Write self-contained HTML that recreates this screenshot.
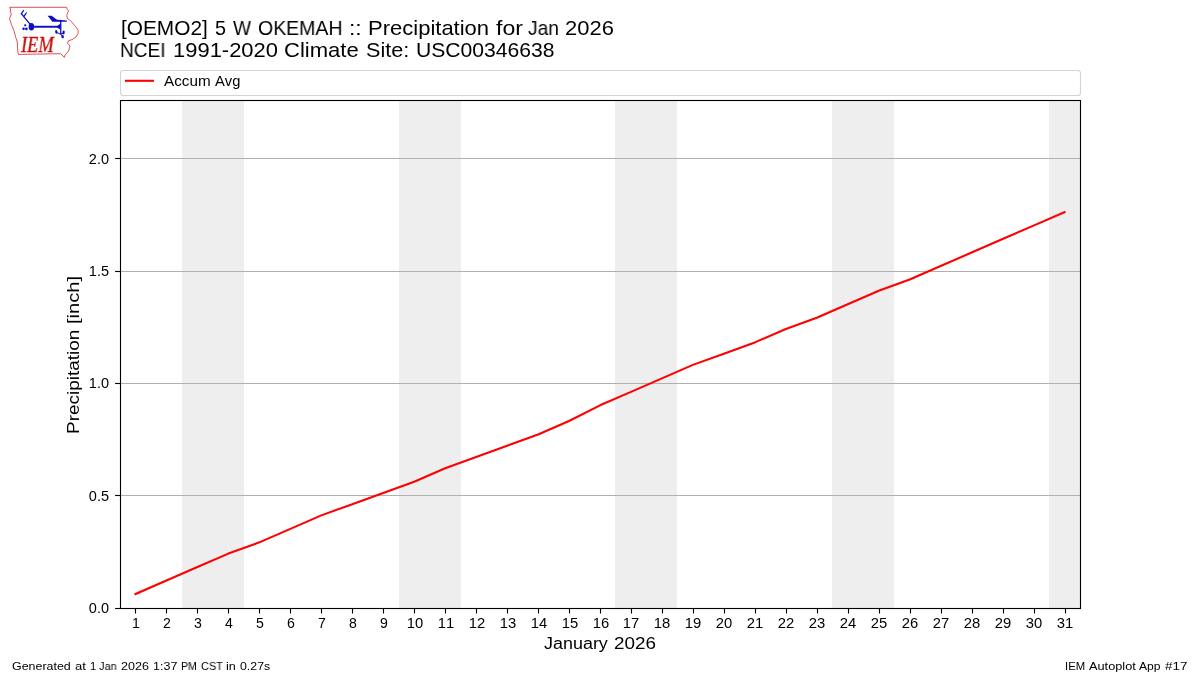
<!DOCTYPE html>
<html lang="en">
<head>
<meta charset="utf-8">
<title>[OEMO2] 5 W OKEMAH :: Precipitation for Jan 2026</title>
<style>
html,body{margin:0;padding:0;background:#ffffff;}
body{width:1200px;height:675px;position:relative;overflow:hidden;font-family:"Liberation Sans",sans-serif;color:#000000;}
.chart{position:absolute;left:0;top:0;display:block;}
.logo{position:absolute;left:0;top:0;display:block;}
.iem{font-family:"Liberation Serif",serif;font-style:italic;color:#cc0a0a;-webkit-text-stroke:0.3px #cc0a0a;}
.t{position:absolute;white-space:nowrap;line-height:1;margin:0;padding:0;will-change:transform;font-kerning:none;}
.w{position:absolute;top:0;display:block;white-space:nowrap;transform-origin:0 0;will-change:transform;}
</style>
</head>
<body>
<svg class="chart" width="1200" height="675" viewBox="0 0 1200 675">
<rect x="182" y="101" width="62" height="507" fill="#eeeeee"/>
<rect x="399" y="101" width="62" height="507" fill="#eeeeee"/>
<rect x="615" y="101" width="62" height="507" fill="#eeeeee"/>
<rect x="832" y="101" width="62" height="507" fill="#eeeeee"/>
<rect x="1049" y="101" width="31" height="507" fill="#eeeeee"/>
<line x1="120.5" y1="608.5" x2="1080.5" y2="608.5" stroke="#b0b0b0" stroke-width="1.11"/>
<line x1="120.5" y1="495.5" x2="1080.5" y2="495.5" stroke="#b0b0b0" stroke-width="1.11"/>
<line x1="120.5" y1="383.5" x2="1080.5" y2="383.5" stroke="#b0b0b0" stroke-width="1.11"/>
<line x1="120.5" y1="271.5" x2="1080.5" y2="271.5" stroke="#b0b0b0" stroke-width="1.11"/>
<line x1="120.5" y1="158.5" x2="1080.5" y2="158.5" stroke="#b0b0b0" stroke-width="1.11"/>
<polyline points="135.48,594.02 166.45,580.54 197.42,567.06 228.39,553.58 259.35,542.35 290.32,528.87 321.29,515.39 352.26,504.16 383.23,492.93 414.19,481.70 445.16,468.22 476.13,456.98 507.10,445.75 538.06,434.52 569.03,421.04 600.00,405.31 630.97,391.84 661.94,378.36 692.90,364.88 723.87,353.65 754.84,342.41 785.81,328.93 816.77,317.70 847.74,304.22 878.71,290.74 909.68,279.51 940.65,266.03 971.61,252.55 1002.58,239.07 1033.55,225.60 1064.52,212.12" fill="none" stroke="#ff0000" stroke-width="2.08" stroke-linejoin="round" stroke-linecap="square"/>
<rect x="120.5" y="100.5" width="960" height="508" fill="none" stroke="#000" stroke-width="1.11"/>
<line x1="115.1" y1="608.5" x2="120.5" y2="608.5" stroke="#000" stroke-width="1.11"/>
<line x1="115.1" y1="495.5" x2="120.5" y2="495.5" stroke="#000" stroke-width="1.11"/>
<line x1="115.1" y1="383.5" x2="120.5" y2="383.5" stroke="#000" stroke-width="1.11"/>
<line x1="115.1" y1="271.5" x2="120.5" y2="271.5" stroke="#000" stroke-width="1.11"/>
<line x1="115.1" y1="158.5" x2="120.5" y2="158.5" stroke="#000" stroke-width="1.11"/>
<line x1="135.5" y1="608.5" x2="135.5" y2="613.5" stroke="#000" stroke-width="1.11"/>
<line x1="166.5" y1="608.5" x2="166.5" y2="613.5" stroke="#000" stroke-width="1.11"/>
<line x1="197.5" y1="608.5" x2="197.5" y2="613.5" stroke="#000" stroke-width="1.11"/>
<line x1="228.5" y1="608.5" x2="228.5" y2="613.5" stroke="#000" stroke-width="1.11"/>
<line x1="259.5" y1="608.5" x2="259.5" y2="613.5" stroke="#000" stroke-width="1.11"/>
<line x1="290.5" y1="608.5" x2="290.5" y2="613.5" stroke="#000" stroke-width="1.11"/>
<line x1="321.5" y1="608.5" x2="321.5" y2="613.5" stroke="#000" stroke-width="1.11"/>
<line x1="352.5" y1="608.5" x2="352.5" y2="613.5" stroke="#000" stroke-width="1.11"/>
<line x1="383.5" y1="608.5" x2="383.5" y2="613.5" stroke="#000" stroke-width="1.11"/>
<line x1="414.5" y1="608.5" x2="414.5" y2="613.5" stroke="#000" stroke-width="1.11"/>
<line x1="445.5" y1="608.5" x2="445.5" y2="613.5" stroke="#000" stroke-width="1.11"/>
<line x1="476.5" y1="608.5" x2="476.5" y2="613.5" stroke="#000" stroke-width="1.11"/>
<line x1="507.5" y1="608.5" x2="507.5" y2="613.5" stroke="#000" stroke-width="1.11"/>
<line x1="538.5" y1="608.5" x2="538.5" y2="613.5" stroke="#000" stroke-width="1.11"/>
<line x1="569.5" y1="608.5" x2="569.5" y2="613.5" stroke="#000" stroke-width="1.11"/>
<line x1="600.5" y1="608.5" x2="600.5" y2="613.5" stroke="#000" stroke-width="1.11"/>
<line x1="631.5" y1="608.5" x2="631.5" y2="613.5" stroke="#000" stroke-width="1.11"/>
<line x1="662.5" y1="608.5" x2="662.5" y2="613.5" stroke="#000" stroke-width="1.11"/>
<line x1="693.5" y1="608.5" x2="693.5" y2="613.5" stroke="#000" stroke-width="1.11"/>
<line x1="724.5" y1="608.5" x2="724.5" y2="613.5" stroke="#000" stroke-width="1.11"/>
<line x1="755.5" y1="608.5" x2="755.5" y2="613.5" stroke="#000" stroke-width="1.11"/>
<line x1="786.5" y1="608.5" x2="786.5" y2="613.5" stroke="#000" stroke-width="1.11"/>
<line x1="817.5" y1="608.5" x2="817.5" y2="613.5" stroke="#000" stroke-width="1.11"/>
<line x1="848.5" y1="608.5" x2="848.5" y2="613.5" stroke="#000" stroke-width="1.11"/>
<line x1="879.5" y1="608.5" x2="879.5" y2="613.5" stroke="#000" stroke-width="1.11"/>
<line x1="910.5" y1="608.5" x2="910.5" y2="613.5" stroke="#000" stroke-width="1.11"/>
<line x1="941.5" y1="608.5" x2="941.5" y2="613.5" stroke="#000" stroke-width="1.11"/>
<line x1="972.5" y1="608.5" x2="972.5" y2="613.5" stroke="#000" stroke-width="1.11"/>
<line x1="1003.5" y1="608.5" x2="1003.5" y2="613.5" stroke="#000" stroke-width="1.11"/>
<line x1="1034.5" y1="608.5" x2="1034.5" y2="613.5" stroke="#000" stroke-width="1.11"/>
<line x1="1065.5" y1="608.5" x2="1065.5" y2="613.5" stroke="#000" stroke-width="1.11"/>
<rect x="120.5" y="70.5" width="960" height="25" rx="2.8" ry="2.8" fill="#fff" stroke="#d4d4d4" stroke-width="1.11"/>
<line x1="125.0" y1="80.8" x2="154.0" y2="80.8" stroke="#ff0000" stroke-width="2.08"/>
</svg>
<svg class="logo" width="100" height="70" viewBox="0 0 100 70">
<path d="M9.7,7.3 L66.7,7.3 L67.0,9.3 L68.7,10.7 L67.6,12.8 L66.8,15.3 L67.3,18.6 L70.6,20.6 L73.3,24.0 L76.2,27.3 L78.2,30.4 L78.0,33.6 L75.8,37.3 L72.0,39.6 L68.4,40.8 L67.6,43.3 L70.0,46.0 L69.0,50.0 L67.0,53.0 L65.0,55.0 L64.3,57.4 L60.7,53.7 L18.4,54.4 L17.7,50.6 L17.3,42.0 L15.7,37.3 L14.0,30.7 L11.4,24.6 L9.6,18.8 L11.3,14.0 L10.3,11.8 L10.7,10.0 Z" fill="none" stroke="#da4444" stroke-width="0.92" stroke-linejoin="round"/>
<g fill="#0b0bc8" stroke="none">
<ellipse cx="31.4" cy="26.65" rx="2.75" ry="3.75"/>
<rect x="31.3" y="25.8" width="29.6" height="1.9"/>
<path d="M57.5,25.8 L60.2,23.8 L60.2,29.6 L57.5,27.7 Z"/>
<rect x="60.1" y="19.8" width="1.3" height="14.2"/>
<path d="M47.6,15.8 L51.6,15.8 L57.0,19.8 L66.8,20.6 L66.8,21.8 L52.4,21.8 Z"/>
<circle cx="25.2" cy="25.3" r="1.1"/>
<circle cx="23.6" cy="28.8" r="1.3"/>
<circle cx="26.4" cy="28.9" r="1.3"/>
<ellipse cx="56.3" cy="31.9" rx="1.15" ry="1.8" transform="rotate(-8 56.3 31.9)"/>
<ellipse cx="63.6" cy="32.4" rx="1.15" ry="2.0" transform="rotate(6 63.6 32.4)"/>
<ellipse cx="62.6" cy="36.7" rx="1.25" ry="1.7" transform="rotate(-10 62.6 36.7)"/>
</g>
<g fill="none" stroke="#0b0bc8" stroke-linecap="round">
<path d="M30.2,24.3 L21.5,13.8" stroke-width="1.3"/>
<path d="M21.4,13.7 L23.6,10.5 M24.1,16.2 L26.3,13.0" stroke-width="1.3"/>
<path d="M57.0,32.6 L60.6,34.2 L63.3,33.2 M60.8,33.8 L62.4,36.2" stroke-width="1.0"/>
</g>
</svg>

<div class="t iem" id="iem" style="left:21px;top:33.7px;font-size:22.7px;transform:scale(0.81,1);transform-origin:left top;">IEM</div>
<div class="t " id="title1" style="left:0;top:19px;font-size:19.8px;"><span class="w" style="left:120.69px;transform:scaleX(1.0524)">[OEMO2]</span> <span class="w" style="left:214.62px;transform:scaleX(0.977)">5</span> <span class="w" style="left:233.01px;transform:scaleX(0.9682)">W</span> <span class="w" style="left:258.02px;transform:scaleX(0.9853)">OKEMAH</span> <span class="w" style="left:349.26px;transform:scaleX(1.1581)">::</span> <span class="w" style="left:368.46px;transform:scaleX(1.1125)">Precipitation</span> <span class="w" style="left:496.19px;transform:scaleX(1.1685)">for</span> <span class="w" style="left:527.68px;transform:scaleX(0.967)">Jan</span> <span class="w" style="left:565.46px;transform:scaleX(1.1103)">2026</span></div>
<div class="t " id="title2" style="left:0;top:41px;font-size:19.8px;"><span class="w" style="left:120.34px;transform:scaleX(0.9651)">NCEI</span> <span class="w" style="left:172.78px;transform:scaleX(1.1098)">1991-2020</span> <span class="w" style="left:284.46px;transform:scaleX(1.1145)">Climate</span> <span class="w" style="left:365.79px;transform:scaleX(1.0926)">Site:</span> <span class="w" style="left:415.61px;transform:scaleX(1.0673)">USC00346638</span></div>
<div class="t " id="legend" style="left:0;top:74px;font-size:14.1px;"><span class="w" style="left:163.98px;transform:scaleX(1.0816)">Accum</span> <span class="w" style="left:215.26px;transform:scaleX(1.0425)">Avg</span></div>
<div class="t " id="ylabel" style="left:65px;top:354.6px;font-size:16.5px;transform:rotate(-90deg);transform-origin:0 0;"><span class="w" style="left:-78.93px;transform:scaleX(1.1489)">Precipitation</span> <span class="w" style="left:30.9px;transform:scaleX(1.2199)">[inch]</span></div>
<div class="t " id="xlabel" style="left:0;top:636px;font-size:16.62px;"><span class="w" style="left:543.81px;transform:scaleX(1.0801)">January</span> <span class="w" style="left:613.71px;transform:scaleX(1.1338)">2026</span></div>
<div class="t " id="footL" style="left:0;top:661px;font-size:11.3px;"><span class="w" style="left:12.0px;transform:scaleX(1.1)">Generated</span> <span class="w" style="left:74.59px;transform:scaleX(1.1547)">at</span> <span class="w" style="left:89.54px;transform:scaleX(0.99)">1</span> <span class="w" style="left:99.03px;transform:scaleX(0.9682)">Jan</span> <span class="w" style="left:120.62px;transform:scaleX(1.1117)">2026</span> <span class="w" style="left:152.51px;transform:scaleX(1.1078)">1:37</span> <span class="w" style="left:180.95px;transform:scaleX(0.9348)">PM</span> <span class="w" style="left:200.62px;transform:scaleX(0.9651)">CST</span> <span class="w" style="left:225.88px;transform:scaleX(1.114)">in</span> <span class="w" style="left:239.59px;transform:scaleX(1.0918)">0.27s</span></div>
<div class="t " id="footR" style="left:0;top:661px;font-size:11.3px;"><span class="w" style="left:1065.35px;transform:scaleX(0.9773)">IEM</span> <span class="w" style="left:1088.75px;transform:scaleX(1.1301)">Autoplot</span> <span class="w" style="left:1139.38px;transform:scaleX(1.0715)">App</span> <span class="w" style="left:1165.35px;transform:scaleX(1.1868)">#17</span></div>
<div class="t " id="yt0_0" style="left:48.8px;top:600.5px;font-size:14.1px;transform:scale(1.03,1);transform-origin:right top;width:60px;text-align:right;">0.0</div>
<div class="t " id="yt0_5" style="left:48.8px;top:489.0px;font-size:14.1px;transform:scale(1.03,1);transform-origin:right top;width:60px;text-align:right;">0.5</div>
<div class="t " id="yt1_0" style="left:48.8px;top:376.0px;font-size:14.1px;transform:scale(1.03,1);transform-origin:right top;width:60px;text-align:right;">1.0</div>
<div class="t " id="yt1_5" style="left:48.8px;top:263.5px;font-size:14.1px;transform:scale(1.03,1);transform-origin:right top;width:60px;text-align:right;">1.5</div>
<div class="t " id="yt2_0" style="left:48.8px;top:152.0px;font-size:14.1px;transform:scale(1.03,1);transform-origin:right top;width:60px;text-align:right;">2.0</div>
<div class="t " id="xt1" style="left:115.98px;top:616px;font-size:14.1px;width:40px;text-align:center;">1</div>
<div class="t " id="xt2" style="left:146.95px;top:616px;font-size:14.1px;width:40px;text-align:center;">2</div>
<div class="t " id="xt3" style="left:177.92px;top:616px;font-size:14.1px;width:40px;text-align:center;">3</div>
<div class="t " id="xt4" style="left:208.89px;top:616px;font-size:14.1px;width:40px;text-align:center;">4</div>
<div class="t " id="xt5" style="left:239.85px;top:616px;font-size:14.1px;width:40px;text-align:center;">5</div>
<div class="t " id="xt6" style="left:270.82px;top:616px;font-size:14.1px;width:40px;text-align:center;">6</div>
<div class="t " id="xt7" style="left:301.79px;top:616px;font-size:14.1px;width:40px;text-align:center;">7</div>
<div class="t " id="xt8" style="left:332.76px;top:616px;font-size:14.1px;width:40px;text-align:center;">8</div>
<div class="t " id="xt9" style="left:363.73px;top:616px;font-size:14.1px;width:40px;text-align:center;">9</div>
<div class="t " id="xt10" style="left:394.69px;top:616px;font-size:14.1px;transform:scale(1.05,1);transform-origin:center top;width:40px;text-align:center;">10</div>
<div class="t " id="xt11" style="left:425.66px;top:616px;font-size:14.1px;transform:scale(1.05,1);transform-origin:center top;width:40px;text-align:center;">11</div>
<div class="t " id="xt12" style="left:456.63px;top:616px;font-size:14.1px;transform:scale(1.05,1);transform-origin:center top;width:40px;text-align:center;">12</div>
<div class="t " id="xt13" style="left:487.6px;top:616px;font-size:14.1px;transform:scale(1.05,1);transform-origin:center top;width:40px;text-align:center;">13</div>
<div class="t " id="xt14" style="left:518.56px;top:616px;font-size:14.1px;transform:scale(1.05,1);transform-origin:center top;width:40px;text-align:center;">14</div>
<div class="t " id="xt15" style="left:549.53px;top:616px;font-size:14.1px;transform:scale(1.05,1);transform-origin:center top;width:40px;text-align:center;">15</div>
<div class="t " id="xt16" style="left:580.5px;top:616px;font-size:14.1px;transform:scale(1.05,1);transform-origin:center top;width:40px;text-align:center;">16</div>
<div class="t " id="xt17" style="left:611.47px;top:616px;font-size:14.1px;transform:scale(1.05,1);transform-origin:center top;width:40px;text-align:center;">17</div>
<div class="t " id="xt18" style="left:642.44px;top:616px;font-size:14.1px;transform:scale(1.05,1);transform-origin:center top;width:40px;text-align:center;">18</div>
<div class="t " id="xt19" style="left:673.4px;top:616px;font-size:14.1px;transform:scale(1.05,1);transform-origin:center top;width:40px;text-align:center;">19</div>
<div class="t " id="xt20" style="left:704.37px;top:616px;font-size:14.1px;transform:scale(1.05,1);transform-origin:center top;width:40px;text-align:center;">20</div>
<div class="t " id="xt21" style="left:735.34px;top:616px;font-size:14.1px;transform:scale(1.05,1);transform-origin:center top;width:40px;text-align:center;">21</div>
<div class="t " id="xt22" style="left:766.31px;top:616px;font-size:14.1px;transform:scale(1.05,1);transform-origin:center top;width:40px;text-align:center;">22</div>
<div class="t " id="xt23" style="left:797.27px;top:616px;font-size:14.1px;transform:scale(1.05,1);transform-origin:center top;width:40px;text-align:center;">23</div>
<div class="t " id="xt24" style="left:828.24px;top:616px;font-size:14.1px;transform:scale(1.05,1);transform-origin:center top;width:40px;text-align:center;">24</div>
<div class="t " id="xt25" style="left:859.21px;top:616px;font-size:14.1px;transform:scale(1.05,1);transform-origin:center top;width:40px;text-align:center;">25</div>
<div class="t " id="xt26" style="left:890.18px;top:616px;font-size:14.1px;transform:scale(1.05,1);transform-origin:center top;width:40px;text-align:center;">26</div>
<div class="t " id="xt27" style="left:921.15px;top:616px;font-size:14.1px;transform:scale(1.05,1);transform-origin:center top;width:40px;text-align:center;">27</div>
<div class="t " id="xt28" style="left:952.11px;top:616px;font-size:14.1px;transform:scale(1.05,1);transform-origin:center top;width:40px;text-align:center;">28</div>
<div class="t " id="xt29" style="left:983.08px;top:616px;font-size:14.1px;transform:scale(1.05,1);transform-origin:center top;width:40px;text-align:center;">29</div>
<div class="t " id="xt30" style="left:1014.05px;top:616px;font-size:14.1px;transform:scale(1.05,1);transform-origin:center top;width:40px;text-align:center;">30</div>
<div class="t " id="xt31" style="left:1045.02px;top:616px;font-size:14.1px;transform:scale(1.05,1);transform-origin:center top;width:40px;text-align:center;">31</div>
</body>
</html>
